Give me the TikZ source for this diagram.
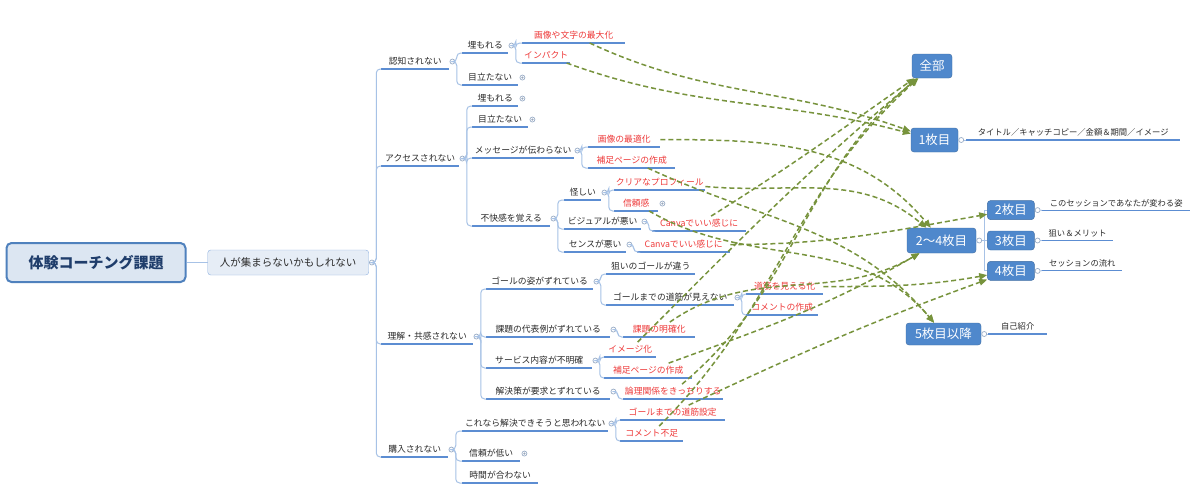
\documentclass[tikz,border=0pt]{standalone}
\usepackage{fontspec}
\setmainfont{Noto Sans CJK JP}
\usetikzlibrary{positioning, arrows.meta}

\definecolor{lineblue}{HTML}{5C8DD2}
\definecolor{branchblue}{HTML}{A7C2E6}
\definecolor{slideblue}{HTML}{4F88CC}
\definecolor{fixred}{HTML}{EE3A3A}
\definecolor{linkgreen}{HTML}{77933C}
\definecolor{rootfill}{HTML}{DCE6F2}
\definecolor{rootline}{HTML}{4F81BD}
\definecolor{roottext}{HTML}{1F3D6B}
\definecolor{darktext}{HTML}{2B2B2B}

\tikzset{
  topic/.style={anchor=south west, inner xsep=0pt, inner ysep=3pt,
    text height=7.5pt, text depth=1pt, text=darktext,
    font=\fontsize{8.8}{10}\selectfont,
    append after command={(\tikzlastnode.south west) edge[uline] (\tikzlastnode.south east)}},
  idea/.style={topic, text=fixred},
  note/.style={topic, font=\fontsize{8.3}{10}\selectfont},
  uline/.style={draw=lineblue, line width=1.3pt},
  branch/.style={draw=branchblue, line width=1pt, rounded corners=4pt},
  mk/.style={circle, draw=branchblue!70!gray, fill=white, inner sep=0pt, minimum size=5pt, line width=0.7pt},
  mkdot/.style={mk, path picture={\fill[branchblue!60!gray] (path picture bounding box.center) circle (1.2pt);}},
  rootbox/.style={draw=rootline, line width=2pt, fill=rootfill, rounded corners=5pt,
    minimum width=179pt, minimum height=39pt, text=roottext, font=\fontsize{15}{18}\selectfont\bfseries},
  mainbox/.style={draw=branchblue!70!lineblue, fill=rootfill!70!white, rounded corners=3pt, inner sep=0pt,
    minimum width=161pt, minimum height=25pt, text=darktext, font=\fontsize{10.5}{12}\selectfont},
  slide/.style={fill=slideblue, draw=slideblue!80!black, line width=0.4pt, rounded corners=3pt,
    text=white, inner sep=0pt, font=\fontsize{12.5}{14}\selectfont},
  link/.style={draw=linkgreen, line width=1.5pt, dash pattern=on 5pt off 3pt, -{Triangle[length=8pt, width=6.5pt]}},
}

\begin{document}
\begin{tikzpicture}[x=1pt, y=-1pt]
  \useasboundingbox[fill=white] (0,0) rectangle (1200,499);

  % centre
  \node[rootbox] (root) at (96,262.5) {体験コーチング課題};
  \node[mainbox, right=21pt of root] (main) {人が集まらないかもしれない};
  \draw[branch] (root) -- (main);

  % first level
  \node[topic, minimum width=68pt] (nin) at (381,69) {認知されない};
  \node[topic, minimum width=78pt] (acc) at (381,166) {アクセスされない};
  \node[topic, minimum width=92pt] (und) at (381,344) {理解・共感されない};
  \node[topic, minimum width=67pt] (buy) at (381,457) {購入されない};

  % not noticed
  \node[topic, minimum width=46pt] (nin-bury) at (462,53) {埋もれる};
  \node[topic, minimum width=56pt] (nin-dull) at (462,85) {目立たない};
  \node[idea, minimum width=103pt] (idea-max) at (522,43) {画像や文字の最大化};
  \node[idea, minimum width=48pt] (idea-impact) at (522,63) {インパクト};

  % not accessed
  \node[topic, minimum width=46pt] (acc-bury) at (472,106) {埋もれる};
  \node[topic, minimum width=56pt] (acc-dull) at (472,127) {目立たない};
  \node[topic, minimum width=102pt] (acc-msg) at (472,158) {メッセージが伝わらない};
  \node[topic, minimum width=78pt] (acc-bad) at (472,226) {不快感を覚える};
  \node[idea, minimum width=72pt] (idea-opt) at (588,147) {画像の最適化};
  \node[idea, minimum width=87pt] (idea-supp) at (588,168) {補足ページの作成};
  \node[topic, minimum width=37pt] (bad-sus) at (564,200) {怪しい};
  \node[topic, minimum width=77pt] (bad-vis) at (564,229) {ビジュアルが悪い};
  \node[topic, minimum width=62pt] (bad-sense) at (564,252) {センスが悪い};
  \node[idea, minimum width=91pt] (idea-prof) at (614,190) {クリアなプロフィール};
  \node[idea, minimum width=44pt] (idea-trust) at (614,211) {信頼感};
  \node[idea, minimum width=94pt] (idea-canva1) at (652,231) {Canvaでいい感じに};
  \node[idea, minimum width=93pt] (idea-canva2) at (637,252) {Canvaでいい感じに};

  % not understood
  \node[topic, minimum width=107pt] (und-goal) at (486,289) {ゴールの姿がずれている};
  \node[topic, minimum width=124pt] (und-case) at (486,337) {課題の代表例がずれている};
  \node[topic, minimum width=106pt] (und-svc) at (486,368) {サービス内容が不明確};
  \node[topic, minimum width=124pt] (und-sol) at (486,399) {解決策が要求とずれている};
  \node[topic, minimum width=89pt] (goal-aim) at (606,274) {狙いのゴールが違う};
  \node[topic, minimum width=128pt] (goal-path) at (606,305) {ゴールまでの道筋が見えない};
  \node[idea, minimum width=77pt] (idea-show) at (746,294) {道筋を見える化};
  \node[idea, minimum width=72pt] (idea-cmt) at (746,315) {コメントの作成};
  \node[idea, minimum width=72pt] (idea-clear) at (623,337) {課題の明確化};
  \node[idea, minimum width=52pt] (idea-image) at (604,357) {イメージ化};
  \node[idea, minimum width=88pt] (idea-supp2) at (604,378) {補足ページの作成};
  \node[idea, minimum width=100pt] (idea-logic) at (623,399) {論理関係をきっちりする};

  % not bought
  \node[topic, minimum width=146pt] (buy-hope) at (462,431) {これなら解決できそうと思われない};
  \node[topic, minimum width=58pt] (buy-low) at (462,461) {信頼が低い};
  \node[topic, minimum width=76pt] (buy-time) at (462,483) {時間が合わない};
  \node[idea, minimum width=105pt] (idea-set) at (620,420) {ゴールまでの道筋設定};
  \node[idea, minimum width=63pt] (idea-short) at (620,441) {コメント不足};

  % slides
  \node[slide, minimum width=40pt, minimum height=24pt] (all) at (932,66) {全部};
  \node[slide, minimum width=47pt, minimum height=24pt] (one) at (934.5,140) {1枚目};
  \node[slide, minimum width=69pt, minimum height=25pt] (mid) at (941.5,240.5) {2～4枚目};
  \node[slide, minimum width=47pt, minimum height=19pt, right=11pt of mid] (three) {3枚目};
  \node[slide, minimum width=47pt, minimum height=19pt, above=11pt of three] (two) {2枚目};
  \node[slide, minimum width=47pt, minimum height=19pt, below=11pt of three] (four) {4枚目};
  \node[slide, minimum width=75pt, minimum height=22pt] (rest) at (943.5,334) {5枚目以降};

  \node[note, minimum width=214pt] (one-note) at (966,140) {タイトル／キャッチコピー／金額＆期間／イメージ};
  \node[note, minimum width=148pt] (two-note) at (1042,210.5) {このセッションであなたが変わる姿};
  \node[note, minimum width=71pt] (three-note) at (1042,240.5) {狙い＆メリット};
  \node[note, minimum width=80pt] (four-note) at (1042,270.5) {セッションの流れ};
  \node[note, minimum width=59pt] (rest-note) at (988,334) {自己紹介};

  % markers
  \foreach \n in {main, nin, acc, und, buy, nin-bury, acc-msg, acc-bad, bad-sus, bad-vis, bad-sense,
      und-goal, und-case, und-svc, und-sol, goal-path, buy-hope, one, mid, two, three, four, rest}
    \node[mk] (\n-m) at ([xshift=3pt]\n.east) {};
  \foreach \n in {nin-dull, acc-bury, acc-dull, idea-trust, buy-low}
    \node[mkdot] (\n-m) at ([xshift=4pt]\n.east) {};

  % tree
  \foreach \p/\c in {main/nin, main/acc, main/und, main/buy, nin/nin-bury, nin/nin-dull,
      nin-bury/idea-max, nin-bury/idea-impact, acc/acc-bury, acc/acc-dull, acc/acc-msg, acc/acc-bad,
      acc-msg/idea-opt, acc-msg/idea-supp, acc-bad/bad-sus, acc-bad/bad-vis, acc-bad/bad-sense,
      bad-sus/idea-prof, bad-sus/idea-trust, bad-vis/idea-canva1, bad-sense/idea-canva2,
      und/und-goal, und/und-case, und/und-svc, und/und-sol, und-goal/goal-aim, und-goal/goal-path,
      goal-path/idea-show, goal-path/idea-cmt, und-case/idea-clear, und-svc/idea-image,
      und-svc/idea-supp2, und-sol/idea-logic, buy/buy-hope, buy/buy-low, buy/buy-time,
      buy-hope/idea-set, buy-hope/idea-short}
    \draw[branch] (\p-m.east) -- ++(1.5,0) |- (\c.south west);

  \foreach \n in {one, two, three, four, rest}
    \draw[branch] (\n-m.east) -- (\n-note.south west);
  \foreach \n in {two, three, four}
    \draw[branch, sharp corners] (mid-m.east) -- ++(2,0) |- (\n.west);

  % links
  \draw[link] (idea-max) to[out=-25, in=160] (one);
  \draw[link] (idea-impact) to[out=-20, in=165] (one);
  \draw[link] (idea-opt) to[out=0, in=130] (mid);
  \draw[link] (idea-prof) to[out=-5, in=140] (mid);
  \draw[link] (idea-supp) to[out=-25, in=130] (rest);
  \draw[link] (idea-trust) to[out=-30, in=130] (rest);
  \draw[link] (idea-canva1) to[out=32, in=-145] (all);
  \draw[link] (idea-canva2) to[out=0, in=190] (two);
  \draw[link] (idea-image) to[out=45, in=-140] (all);
  \draw[link] (idea-logic) to[out=40, in=-140] (all);
  \draw[link] (idea-short) to[out=45, in=-138] (all);
  \draw[link] (idea-clear) to[out=35, in=-150] (mid);
  \draw[link] (idea-supp2) to[out=20, in=-150] (mid);
  \draw[link] (idea-show) to[out=0, in=190] (four);
  \draw[link] (idea-set) to[out=25, in=200] (four);
\end{tikzpicture}
\end{document}
